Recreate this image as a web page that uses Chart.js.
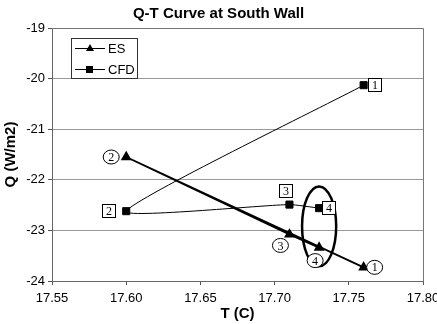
<!DOCTYPE html>
<html>
<head>
<meta charset="utf-8">
<script src="https://cdn.jsdelivr.net/npm/chart.js@4.4.1/dist/chart.umd.min.js"></script>
<style>
    html, body { margin: 0; padding: 0; background: #fff; }
    #wrap { width: 437px; height: 324px; }
</style>
</head>
<body>
<div id="wrap"><canvas id="qtChart"></canvas></div>
<script>
// Values
const esT = [17.76, 17.60, 17.71, 17.73];
const esQ = [-23.73, -21.55, -23.08, -23.34];
const cfdT = [17.76, 17.60, 17.71, 17.73];
const cfdQ = [-20.13, -22.62, -22.49, -22.56];
const pointTags = ['1', '2', '3', '4'];
const xTicks = [17.55, 17.60, 17.65, 17.70, 17.75, 17.80];
const yTicks = [-24, -23, -22, -21, -20, -19];

// ring drawn round the two "4" points (data units)
const ringT = 17.73;
const ringHalfT = 0.0115;
const ringQTop = -22.13;
const ringQBottom = -23.71;

function toPoints(xs, ys) {
    return xs.map((x, i) => ({ x: x, y: ys[i] }));
}

const FONT = 'Liberation Sans, Arial, sans-serif';
const SERIF = 'Liberation Serif, Times New Roman, serif';

// label offsets in pixels from each point
const esTagPos = [[11, 0], [-15, 0], [-9, 11], [-4, 13]];
const cfdTagPos = [[11, 0], [-17, 0], [-3, -14], [10, 0]];

const decorPlugin = {
    id: 'decor',
    afterDraw(chart) {
        const ctx = chart.ctx;
        const a = chart.chartArea;
        const xs = chart.scales.x;
        const ys = chart.scales.y;

        ctx.save();
        // frame on top and right
        ctx.strokeStyle = '#777';
        ctx.lineWidth = 1;
        ctx.beginPath();
        ctx.moveTo(a.left, a.top + 0.5);
        ctx.lineTo(a.right + 0.5, a.top + 0.5);
        ctx.lineTo(a.right + 0.5, a.bottom);
        ctx.stroke();

        // ring
        const cx = xs.getPixelForValue(ringT);
        const rx = xs.getPixelForValue(ringT + ringHalfT) - cx;
        const yTop = ys.getPixelForValue(ringQTop);
        const yBot = ys.getPixelForValue(ringQBottom);
        ctx.strokeStyle = '#000';
        ctx.lineWidth = 2.5;
        ctx.beginPath();
        ctx.ellipse(cx, (yTop + yBot) / 2, rx, (yBot - yTop) / 2, 0, 0, Math.PI * 2);
        ctx.stroke();

        // point tags
        ctx.font = '12px ' + SERIF;
        ctx.textAlign = 'center';
        ctx.textBaseline = 'middle';
        ctx.lineWidth = 1;
        const esMeta = chart.getDatasetMeta(0);
        esMeta.data.forEach((p, i) => {
            const tx = p.x + esTagPos[i][0];
            const ty = p.y + esTagPos[i][1];
            ctx.fillStyle = '#fff';
            ctx.beginPath();
            ctx.ellipse(tx, ty, 8, 7, 0, 0, Math.PI * 2);
            ctx.fill();
            ctx.stroke();
            ctx.fillStyle = '#000';
            ctx.fillText(pointTags[i], tx, ty + 1);
        });
        const cfdMeta = chart.getDatasetMeta(1);
        cfdMeta.data.forEach((p, i) => {
            const tx = Math.round(p.x + cfdTagPos[i][0]);
            const ty = Math.round(p.y + cfdTagPos[i][1]);
            ctx.fillStyle = '#fff';
            ctx.fillRect(tx - 7, ty - 7, 14, 14);
            ctx.strokeRect(tx - 6.5, ty - 6.5, 13, 13);
            ctx.fillStyle = '#000';
            ctx.fillText(pointTags[i], tx, ty + 1);
        });

        // legend box
        const lx = 71, ly = 38, lw = 66, lh = 40;
        ctx.fillStyle = '#fff';
        ctx.fillRect(lx, ly, lw, lh);
        ctx.strokeStyle = '#333';
        ctx.strokeRect(lx + 0.5, ly + 0.5, lw, lh);
        ctx.font = '13px ' + FONT;
        ctx.textAlign = 'left';
        [['ES', 'tri', 48], ['CFD', 'sq', 69]].forEach(([name, mark, y]) => {
            ctx.strokeStyle = '#000';
            ctx.beginPath();
            ctx.moveTo(75, y + 0.5);
            ctx.lineTo(105, y + 0.5);
            ctx.stroke();
            ctx.fillStyle = '#000';
            if (mark === 'tri') {
                ctx.beginPath();
                ctx.moveTo(90, y - 4);
                ctx.lineTo(94, y + 3);
                ctx.lineTo(86, y + 3);
                ctx.closePath();
                ctx.fill();
            } else {
                ctx.fillRect(86, y - 3, 7, 7);
            }
            ctx.fillText(name, 108, y + 1);
        });
        ctx.restore();
    }
};

new Chart(document.getElementById('qtChart'), {
    type: 'scatter',
    data: {
        datasets: [{
            label: 'ES',
            data: toPoints(esT, esQ),
            showLine: true,
            borderColor: '#000',
            backgroundColor: '#000',
            borderWidth: 1.8,
            pointStyle: 'triangle',
            pointRadius: 4.5,
            tension: 0
        }, {
            label: 'CFD',
            data: toPoints(cfdT, cfdQ),
            showLine: true,
            borderColor: '#000',
            backgroundColor: '#000',
            borderWidth: 1,
            pointStyle: 'rect',
            pointRadius: 5,
            tension: 0.17
        }]
    },
    options: {
        responsive: true,
        maintainAspectRatio: false,
        animation: false,
        layout: {
            padding: { left: 0, right: 0, top: 0, bottom: 0 }
        },
        plugins: {
            legend: { display: false },
            tooltip: { enabled: false },
            title: {
                display: true,
                text: 'Q-T Curve at South Wall',
                color: '#000',
                font: { family: FONT, size: 15, weight: 'bold' },
                padding: { top: 5, bottom: 5 }
            }
        },
        scales: {
            x: {
                type: 'linear',
                min: 17.55,
                max: 17.80,
                afterBuildTicks: (scale) => {
                    scale.ticks = xTicks.map(v => ({ value: v }));
                },
                afterFit: (scale) => { scale.height = 43; scale.paddingRight = 14; },
                ticks: {
                    color: '#000',
                    font: { family: FONT, size: 13 },
                    padding: 6,
                    maxRotation: 0,
                    callback: (v) => Number(v).toFixed(2)
                },
                grid: {
                    drawOnChartArea: false,
                    tickLength: 4,
                    tickColor: '#555'
                },
                border: { color: '#666', width: 1 },
                title: {
                    display: true,
                    text: 'T (C)',
                    color: '#000',
                    font: { family: FONT, size: 15, weight: 'bold' },
                    padding: { top: 0, bottom: 1 }
                }
            },
            y: {
                type: 'linear',
                min: -24,
                max: -19,
                afterBuildTicks: (scale) => {
                    scale.ticks = yTicks.map(v => ({ value: v }));
                },
                afterFit: (scale) => { scale.width = 52; },
                ticks: {
                    color: '#000',
                    font: { family: FONT, size: 13 },
                    padding: 3
                },
                grid: {
                    color: '#999',
                    tickLength: 4,
                    tickColor: '#555'
                },
                border: { color: '#666', width: 1 },
                title: {
                    display: true,
                    text: 'Q (W/m2)',
                    color: '#000',
                    font: { family: FONT, size: 15, weight: 'bold' },
                    padding: { top: 2, bottom: 0 }
                }
            }
        }
    },
    plugins: [decorPlugin]
});
</script>
</body>
</html>
